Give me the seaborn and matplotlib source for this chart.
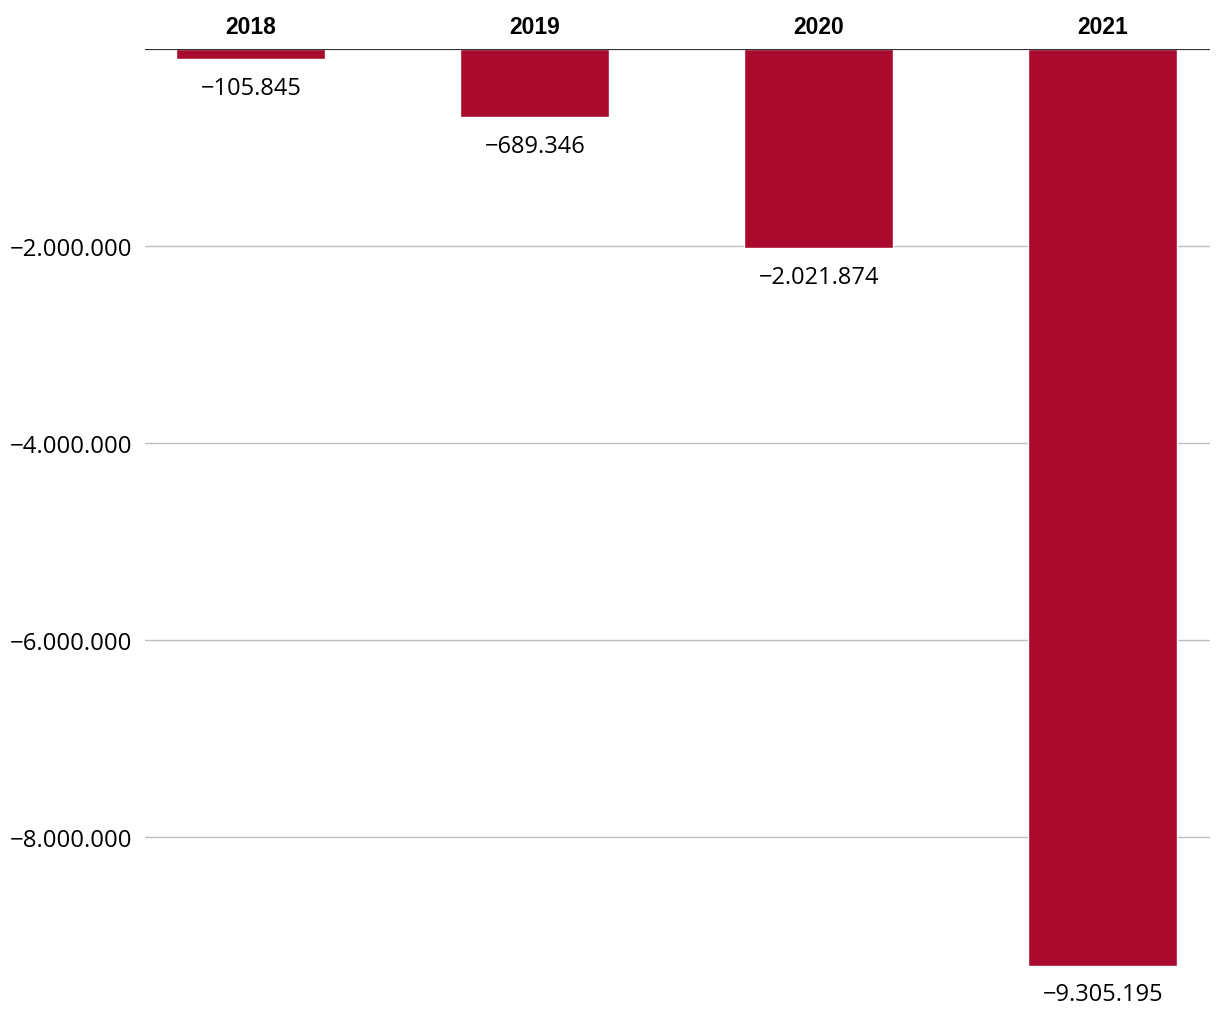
import matplotlib
matplotlib.use("Agg")
import matplotlib.pyplot as plt
import seaborn as sns
import pandas as pd
from matplotlib.font_manager import FontProperties, findfont

# Data
years = ["2018", "2019", "2020", "2021"]
values = [-105845, -689346, -2021874, -9305195]
yticks = [-2000000, -4000000, -6000000, -8000000]


def fmt(v):
    s = f"{abs(v):,}".replace(",", ".")
    return ("\u2212" if v < 0 else "") + s


df = pd.DataFrame({"Year": years, "Value": values})

sns.set_theme(style="white")
plt.rcParams["font.family"] = ["Open Sans", "DejaVu Sans"]

year_font = FontProperties(family="Liberation Sans", weight="bold",
                           stretch="normal", size=16.5)
print(findfont(year_font))

fig = plt.figure(figsize=(12.2, 10.2), dpi=100)
ax = fig.add_axes([145 / 1220, 0.0, (1210 - 145) / 1220, 1 - 50 / 1020])

sns.barplot(
    data=df,
    x="Year",
    y="Value",
    color="#a90a2e",
    width=0.525,
    saturation=1,
    ax=ax
)

ax.set_xlim(-0.373, 3.377)
ax.set_ylim(-9848000, 0)

# Grid
ax.set_yticks(yticks)
ax.set_yticklabels([fmt(t) for t in yticks], fontsize=17.3, color="black")
for t in yticks:
    ax.axhline(t, color="#bdbdbd", lw=1, zorder=0)
ax.axhline(0, color="#333333", lw=1.6, zorder=3)

# Year labels on top
ax.xaxis.tick_top()
ax.set_xticklabels(years, fontproperties=year_font, color="black")
ax.tick_params(axis="x", length=0, pad=8)
ax.tick_params(axis="y", length=0, pad=9)
ax.set_xlabel("")
ax.set_ylabel("")
for s in ax.spines.values():
    s.set_visible(False)

# Value labels
for i, v in enumerate(values):
    ax.annotate(
        fmt(v),
        (i, v),
        xytext=(0, -12),
        textcoords="offset points",
        ha="center",
        va="top",
        fontsize=17,
        color="black"
    )

fig.savefig("out.png", dpi=100)
